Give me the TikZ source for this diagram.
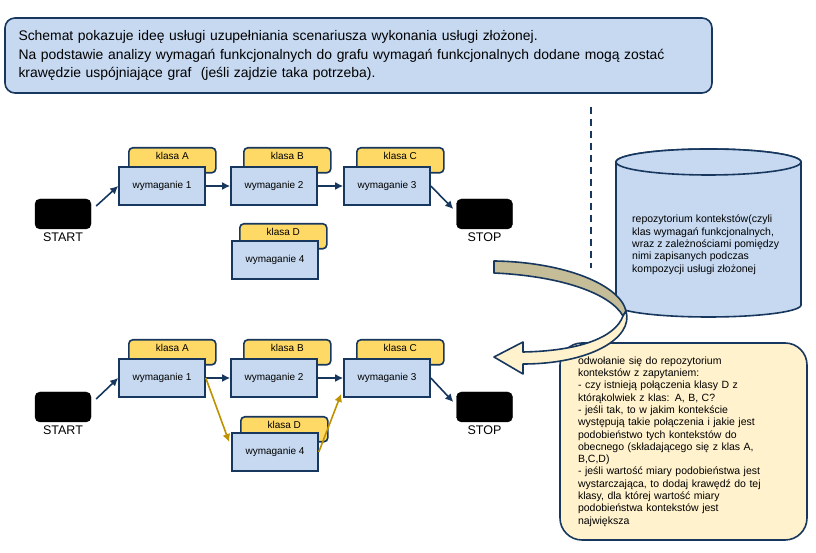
\documentclass[tikz,border=0pt]{standalone}
\usepackage{fontspec}
\setmainfont{Liberation Sans}
\usetikzlibrary{arrows.meta,calc}
\definecolor{granat}{HTML}{17375E}
\definecolor{blekit}{HTML}{C6D9F1}
\definecolor{zolty}{HTML}{FFD966}
\definecolor{zloty}{HTML}{BF9000}
\definecolor{krem}{HTML}{FFF2CC}
\definecolor{khaki}{HTML}{C4BD97}

\begin{document}
\begin{tikzpicture}[x=1pt,y=1pt,
    wym/.style={draw=granat,line width=1.6pt,fill=blekit,minimum width=86pt,minimum height=38pt,inner sep=1pt,font=\fontsize{10}{12}\selectfont},
    klasa/.style={draw=granat,line width=1.6pt,fill=zolty,rounded corners=4pt,anchor=north west,minimum width=87pt,minimum height=25pt,text height=7pt,text depth=9pt,inner sep=1pt,font=\fontsize{10}{12}\selectfont},
    term/.style={draw=black,fill=black,rounded corners=5pt,minimum width=56pt,minimum height=30pt,label distance=4pt},
    opis/.style={font=\fontsize{12.5}{15}\selectfont},
    strz/.style={granat,line width=1.6pt,-{Latex[length=8pt,width=8pt]}},
    nowa/.style={zloty,line width=1.6pt,-{Latex[length=8pt,width=8pt]}}]
    \useasboundingbox (0,0) rectangle (816,553);

    % ---- Ramka z opisem ----
    \node[draw=granat,line width=1.6pt,fill=blekit,rounded corners=10pt,minimum height=75pt,
          text width=680pt,inner xsep=13.5pt,align=left,font=\fontsize{13.9}{18.3}\selectfont]
        (opis) at (358.5,497.5)
        {Schemat pokazuje ideę usługi uzupełniania scenariusza wykonania usługi złożonej.\\
         Na podstawie analizy wymagań funkcjonalnych do grafu wymagań funkcjonalnych dodane mogą zostać\\
         krawędzie uspójniające graf \ (jeśli zajdzie taka potrzeba).};

    % ---- Linia podziału ----
    \draw[granat,line width=2pt,dash pattern=on 7pt off 5pt] (591,446) -- (591,285);

    % ---- Graf przed uzupełnieniem ----
    \node[term,label={[opis]below:START}] (start) at (63,339) {};
    \node[term,label={[opis]below:STOP}] (stop) at (484.5,339) {};

    \node[klasa] (kA) at (128,406) {klasa A};
    \node[wym] (w1) at (162,367) {wymaganie 1};
    \node[klasa] (kB) at (243,406) {klasa B};
    \node[wym] (w2) at (274,367) {wymaganie 2};
    \node[klasa] (kC) at (356,406) {klasa C};
    \node[wym] (w3) at (387,367) {wymaganie 3};
    \node[klasa] (kD) at (239,330) {klasa D};
    \node[wym] (w4) at (275,293) {wymaganie 4};

    \draw[strz] ([shift={(5,8)}]start.east) -- (w1.west);
    \draw[strz] (w1) -- (w2);
    \draw[strz] (w2) -- (w3);
    \draw[strz] (w3.east) -- ([shift={(-3,5)}]stop.west);

    % ---- Graf po uzupełnieniu ----
    \node[term,label={[opis]below:START}] (startb) at (63,146) {};
    \node[term,label={[opis]below:STOP}] (stopb) at (484.5,146) {};

    \node[klasa] (kAb) at (128,214) {klasa A};
    \node[wym] (w1b) at (162,175) {wymaganie 1};
    \node[klasa] (kBb) at (243,214) {klasa B};
    \node[wym] (w2b) at (274,175) {wymaganie 2};
    \node[klasa] (kCb) at (356,214) {klasa C};
    \node[wym] (w3b) at (387,175) {wymaganie 3};
    \node[klasa] (kDb) at (240,137) {klasa D};
    \node[wym] (w4b) at (275,101) {wymaganie 4};

    \draw[strz] ([shift={(5,8)}]startb.east) -- (w1b.west);
    \draw[strz] (w1b) -- (w2b);
    \draw[strz] (w2b) -- (w3b);
    \draw[strz] (w3b.east) -- ([shift={(-3,5)}]stopb.west);
    \draw[nowa] (w1b.east) -- ([shift={(-2,10)}]w4b.west);
    \draw[nowa] (w4b.east) -- ([shift={(-2,4)}]w3b.south west);

    % ---- Repozytorium (cylinder) ----
    \draw[granat,line width=1.6pt,fill=blekit] (616,391) -- (616,248)
        arc[start angle=180,end angle=360,x radius=92.5,y radius=12] -- (801,391)
        arc[start angle=0,end angle=180,x radius=92.5,y radius=13] -- cycle;
    \draw[granat,line width=1.6pt,fill=blekit] (708.5,391) ellipse [x radius=92.5,y radius=13];
    \node[anchor=north west,inner sep=0pt,align=left,font=\fontsize{10.5}{12.3}\selectfont] (repo) at (632,338)
        {repozytorium kontekstów(czyli\\
         klas wymagań funkcjonalnych,\\
         wraz z zależnościami pomiędzy\\
         nimi zapisanych podczas\\
         kompozycji usługi złożonej};

    % ---- Zapytanie ----
    \node[draw=granat,line width=1.6pt,fill=krem,rounded corners=22pt,minimum width=247pt,minimum height=197pt,
          text width=211pt,inner xsep=18pt,align=left,font=\fontsize{10.5}{12.3}\selectfont]
        (pyt) at (683.5,111.5)
        {odwołanie się do repozytorium\\
         kontekstów z zapytaniem:\\
         - czy istnieją połączenia klasy D z\\
         którąkolwiek z klas: A, B, C?\\
         - jeśli tak, to w jakim kontekście\\
         występują takie połączenia i jakie jest\\
         podobieństwo tych kontekstów do\\
         obecnego (składającego się z klas A,\\
         B,C,D)\\
         - jeśli wartość miary podobieństwa jest\\
         wystarczająca, to dodaj krawędź do tej\\
         klasy, dla której wartość miary\\
         podobieństwa kontekstów jest\\
         największa};

    % ---- Zakrzywiona strzałka ----
    \draw[granat,line width=1.6pt,line join=round,fill=khaki] (494,292)
        .. controls (565,291) and (620,268) .. (626,242) -- (623,237)
        .. controls (610,260) and (560,277) .. (494,280) -- cycle;
    \draw[granat,line width=1.6pt,line join=round,fill=krem] (626,242)
        .. controls (634,215) and (590,189) .. (523,189) -- (523,179) -- (494,196)
        -- (523,211) -- (523,201)
        .. controls (578,202) and (615,215) .. (623,237) -- cycle;

\end{tikzpicture}
\end{document}
